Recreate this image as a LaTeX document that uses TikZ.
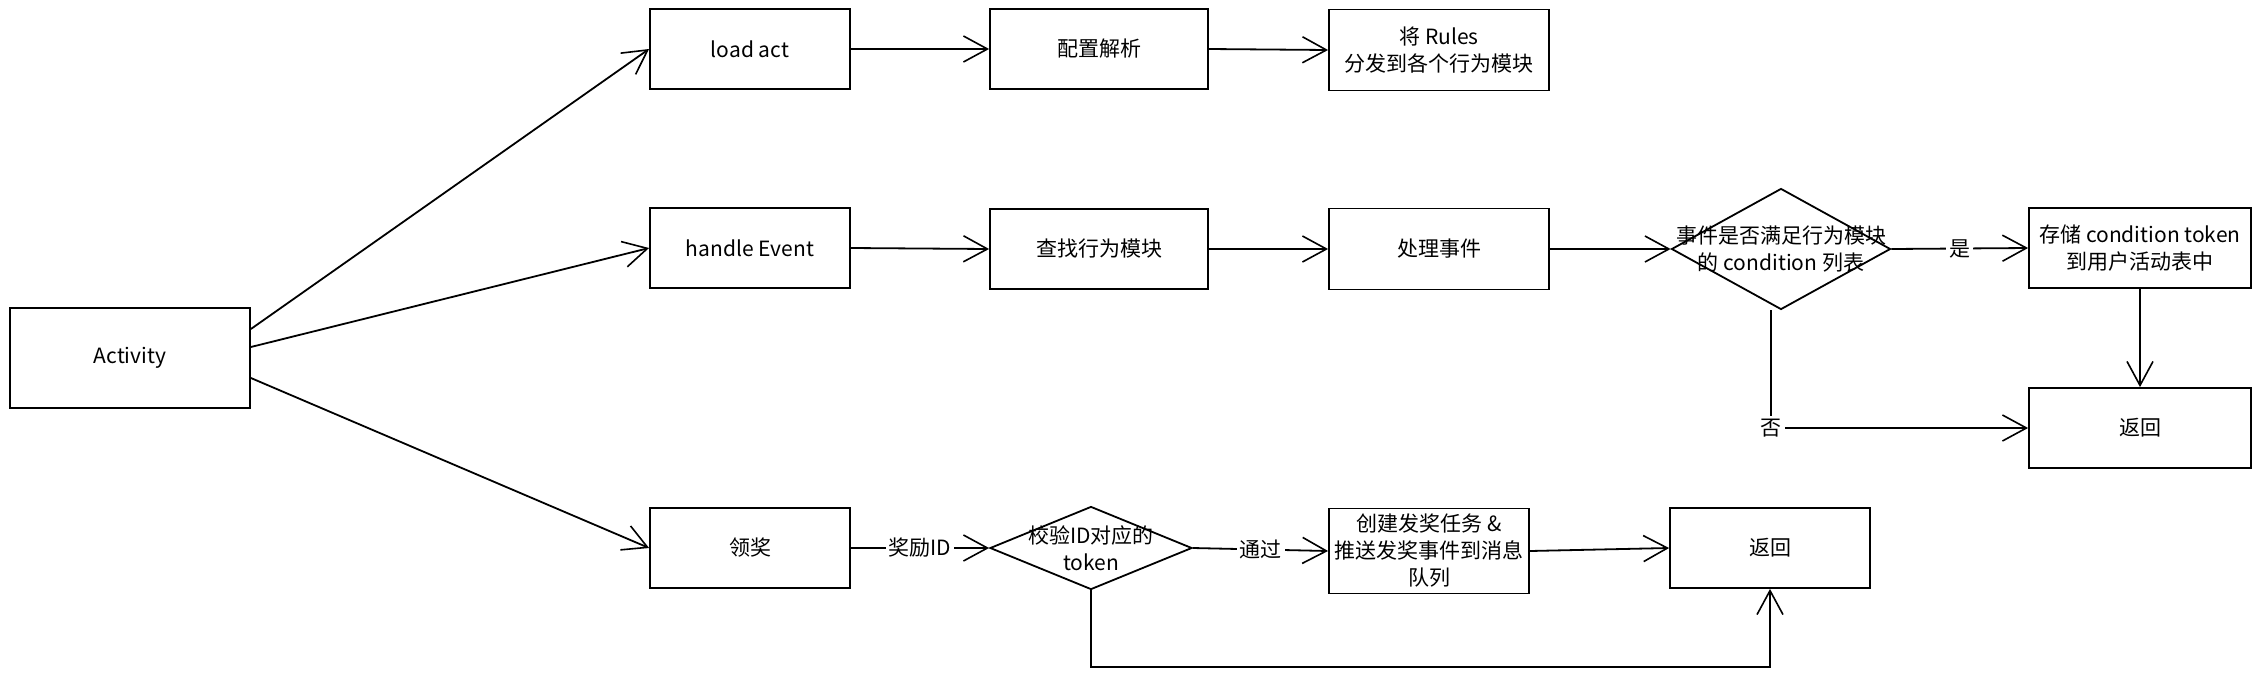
\documentclass[tikz,border=0pt]{standalone}
\usepackage{fontspec}
\setmainfont{Noto Sans CJK SC}
\usetikzlibrary{arrows.meta,shapes.geometric,calc}
\begin{document}
\begin{tikzpicture}[x=0.5pt,y=-0.5pt,
  every node/.style={font=\fontsize{10.5}{13.5}\selectfont},
  box/.style={draw,line width=0.9pt,rectangle,inner sep=0pt,align=center},
  dia/.style={draw,line width=0.9pt,diamond,inner sep=0pt},
  arr/.style={line width=0.9pt,-{Straight Barb[length=12pt,width=13pt,line width=0.8pt]}},
  lbl/.style={fill=white,inner sep=1.5pt}]
\useasboundingbox (0,0) rectangle (2260,681);
\fill[white] (0,0) rectangle (2260,681);

\node[box,minimum width=120pt,minimum height=50pt] (act) at (130,358) {Activity};

\node[box,minimum width=100pt,minimum height=40pt] (load) at (750,49) {load act};
\node[box,minimum width=109pt,minimum height=40pt] (parse) at (1099,49) {配置解析};
\node[box,minimum width=110pt,minimum height=40.5pt] (rules) at (1439,50) {将 Rules\\分发到各个行为模块};

\node[box,minimum width=100pt,minimum height=40pt] (handle) at (750,248) {handle Event};
\node[box,minimum width=109pt,minimum height=40pt] (find) at (1099,249) {查找行为模块};
\node[box,minimum width=110pt,minimum height=40.5pt] (proc) at (1439,249) {处理事件};
\node[dia,minimum width=109.5pt,minimum height=60.5pt] (d1) at (1781,249) {};
\node[align=center] (d1t) at (d1.center) {事件是否满足行为模块\\的 condition 列表};
\node[box,minimum width=111pt,minimum height=40pt] (store) at (2140,248) {存储 condition token\\到用户活动表中};
\node[box,minimum width=111pt,minimum height=40pt] (retR) at (2140,428) {返回};

\node[box,minimum width=100pt,minimum height=40pt] (claim) at (750,548) {领奖};
\node[dia,minimum width=101pt,minimum height=41.5pt] (d2) at (1091,548) {};
\node[align=center] (d2t) at (d2.center) {校验ID对应的\\token};
\node[box,minimum width=100pt,minimum height=42.5pt] (create) at (1429,551) {创建发奖任务 \&\\推送发奖事件到消息\\队列};
\node[box,minimum width=100pt,minimum height=40pt] (retB) at (1770,548) {返回};

\coordinate (loop) at (1091,667);

% from Activity
\draw[arr] ([yshift=14.5pt]act.east) -- (load.west);
\draw[arr] ([yshift=5.5pt]act.east) -- (handle.west);
\draw[arr] ([yshift=-10pt]act.east) -- (claim.west);

% top row
\draw[arr] (load.east) -- (parse.west);
\draw[arr] (parse.east) -- (rules.west);

% middle row
\draw[arr] (handle.east) -- (find.west);
\draw[arr] (find.east) -- (proc.west);
\draw[arr] (proc.east) -- (d1.west);
\draw[arr] (d1.east) -- node[lbl] {是} (store.west);
\draw[arr] (store.south) -- (retR.north);
\draw[arr] ([xshift=-5pt]d1.south) |- node[lbl,pos=0.5] {否} (retR.west);

% bottom row
\draw[arr] (claim.east) -- node[lbl] {奖励ID} (d2.west);
\draw[arr] (d2.east) -- node[lbl] {通过} (create.west);
\draw[arr] (create.east) -- (retB.west);
\draw[arr] (d2.south) -- (loop) -| (retB.south);
\end{tikzpicture}
\end{document}
